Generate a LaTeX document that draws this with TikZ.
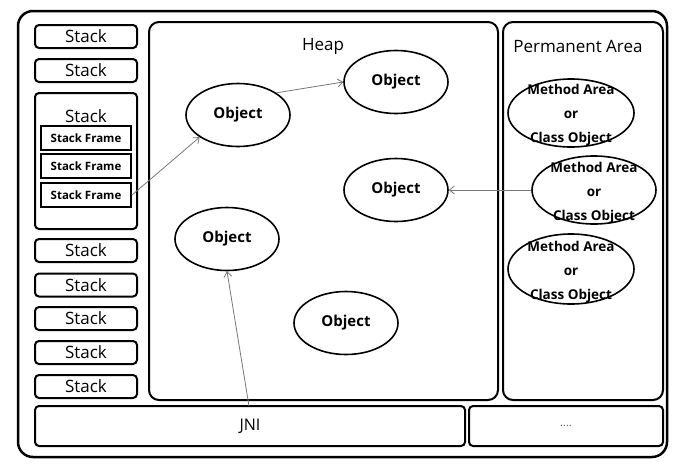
\documentclass[tikz,border=0pt]{standalone}
\usepackage{fontspec}
\setmainfont{Open Sans}
\usetikzlibrary{shapes.geometric,arrows.meta}
\definecolor{arrowgray}{RGB}{120,120,120}
\tikzset{
  box/.style={draw, line width=2pt, rounded corners=4pt, inner sep=0pt},
  stackbox/.style={box, minimum width=102pt, minimum height=23pt, font=\fontsize{17}{20}\selectfont},
  framebox/.style={draw, line width=2pt, inner sep=0pt, minimum width=90pt, minimum height=24pt, font=\fontsize{11.5}{13}\selectfont\bfseries},
  area/.style={draw, line width=2pt, rounded corners=10pt, inner sep=0pt},
  obj/.style={draw, ellipse, line width=1.6pt, inner sep=0pt, minimum width=104pt, minimum height=63pt, font=\fontsize{15}{17}\selectfont\bfseries},
  mell/.style={draw, ellipse, line width=1.6pt, inner sep=0pt, minimum width=126pt, minimum height=68pt},
  mtext/.style={align=center, inner sep=0pt, font=\fontsize{13.5}{24}\selectfont\bfseries},
  lbl/.style={inner sep=0pt, font=\fontsize{17}{20}\selectfont},
  ref/.style={draw=arrowgray, line width=0.8pt, -{Straight Barb[length=5pt,width=8pt]}}
}
\begin{document}
\begin{tikzpicture}[x=1pt,y=-1pt]
\useasboundingbox (0,0) rectangle (679,472);
% outer frame
\draw[line width=2.5pt, rounded corners=15pt] (18,11) rectangle (667,457);
% stacks
\node[stackbox] (s1) at (86,36.5) {Stack};
\node[stackbox] (s2) at (86,70.5) {Stack};
\node[box, minimum width=102pt, minimum height=136pt] (bs) at (86,161) {};
\node[lbl] (bst) at (86,116) {Stack};
\node[framebox] (f1) at (86,138) {Stack Frame};
\node[framebox] (f2) at (86,166) {Stack Frame};
\node[framebox] (f3) at (86,195) {Stack Frame};
\node[stackbox] (s3) at (86,250.5) {Stack};
\node[stackbox] (s4) at (86,285) {Stack};
\node[stackbox] (s5) at (86,318.5) {Stack};
\node[stackbox] (s6) at (86,352.5) {Stack};
\node[stackbox] (s7) at (86,386.5) {Stack};
% heap
\node[area, minimum width=349pt, minimum height=378pt] (heap) at (323.5,211) {};
\node[lbl] (heapt) at (323,46) {Heap};
% permanent
\node[area, minimum width=160pt, minimum height=378pt] (perm) at (583,211) {};
\node[lbl] (permt) at (578,46) {Permanent Area};
% bottom
\node[box, minimum width=430pt, minimum height=40pt, font=\fontsize{16}{18}\selectfont] (jni) at (250,426) {JNI};
\node[box, minimum width=194pt, minimum height=40pt, font=\fontsize{11}{12}\selectfont, text=black!60] (etc) at (566,426) {....};
% objects
\node[obj] (o1) at (238,115) {Object};
\node[obj] (o2) at (396,82) {Object};
\node[obj] (o3) at (396,190) {Object};
\node[obj] (o4) at (227,239) {Object};
\node[obj] (o5) at (346,323) {Object};
% method areas
\node[mell] (m1) at (571,113) {};
\node[mtext] (m1t) at (571,115) {Method Area\\or\\Class Object};
\node[mell, minimum width=124pt] (m2) at (594,190) {};
\node[mtext] (m2t) at (594,193) {Method Area\\or\\Class Object};
\node[mell, minimum height=70pt] (m3) at (571,269) {};
\node[mtext] (m3t) at (571,272) {Method Area\\or\\Class Object};
% references
\coordinate (jnistart) at (249,406);
\draw[ref] (f3.east) -- (o1.210);
\draw[ref] (o1.30) -- (o2.west);
\draw[ref] (m2.west) -- (o3.east);
\draw[ref] (jnistart) -- (o4.south);
\end{tikzpicture}
\end{document}
